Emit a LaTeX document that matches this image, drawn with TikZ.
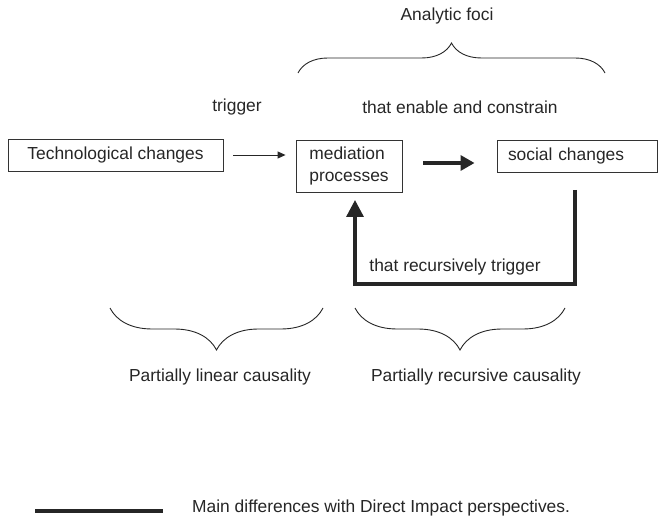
\documentclass[tikz,border=0pt]{standalone}
\usepackage{fontspec}
\setmainfont{Liberation Sans}
\usetikzlibrary{arrows.meta,decorations.pathreplacing}
\begin{document}
\begin{tikzpicture}[x=1pt,y=-1pt,
  every node/.style={font=\fontsize{17.4}{22}\selectfont, text=black!85},
  box/.style={draw=black!80, line width=0.9pt, minimum height=32pt, inner sep=0pt},
  thick/.style={line width=3.3pt, draw=black!85},
  brc/.style={draw=black!85, line width=0.9pt, decorate, decoration={brace, amplitude=#1}},
]
\useasboundingbox (0,0) rectangle (658,518);
% boxes
\node[box, minimum width=215pt] (tech) at (115.5,155) {Technological changes};
\node[box, minimum width=106pt, minimum height=52pt, align=left] (med) at (349,166) {mediation\\processes};
\node[box, text width=138pt, inner xsep=11pt, align=left] (soc) at (577,156) {social changes};
% labels
\node (foci) at (447,16) {Analytic foci};
\node (trig) at (237,107) {trigger};
\node (ena) at (460,107) {that enable and constrain};
\node (rec) at (455,267) {that recursively trigger};
\node (lin) at (220,377) {Partially linear causality};
\node (prc) at (476,377) {Partially recursive causality};
\node[anchor=west, inner xsep=0pt] (leg) at (192,508) {Main differences with Direct Impact perspectives.};
% connectors
\draw[line width=0.9pt, draw=black!85, -{Triangle[length=8pt,width=7pt]}, shorten <=10pt, shorten >=10pt] (tech.east) -- (med.west |- tech.east);
\draw[thick, -{Triangle[length=14pt,width=15pt]}] ([xshift=21pt]med.east |- 0,163) -- ([xshift=-22pt]soc.west |- 0,163);
\coordinate (fbs) at (575,190);
\coordinate (fbc1) at (575,284);
\coordinate (fbc2) at (355,284);
\coordinate (fbe) at (355,200);
\draw[thick, line join=miter, -{Triangle[length=17pt,width=17pt]}] (fbs) -- (fbc1) -- (fbc2) -- (fbe);
% braces
\draw[brc=30pt] (298,73) -- (605,73);
\draw[brc=42pt] (323,308) -- (110,308);
\draw[brc=42pt] (565,308) -- (355,308);
% legend line
\coordinate (l1) at (35,511);
\coordinate (l2) at (163,511);
\draw[thick] (l1) -- (l2);
\end{tikzpicture}
\end{document}
